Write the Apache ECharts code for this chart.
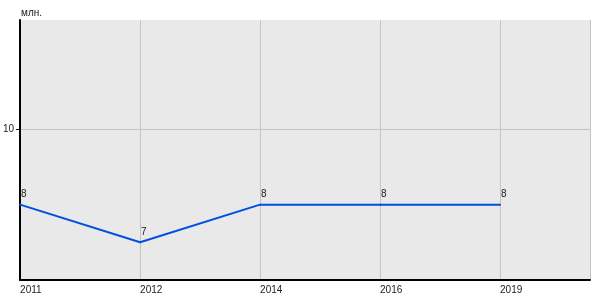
<!DOCTYPE html>
<html><head><meta charset="utf-8">
<script src="https://cdn.jsdelivr.net/npm/echarts@6/dist/echarts.min.js"></script>
<style>html,body{margin:0;padding:0;background:#fff}#c{width:600px;height:300px}</style>
</head><body><div id="c"></div>
<script>
const years = ['2011', '2012', '2014', '2016', '2019'];
const values = [8, 7, 8, 8, 8];
const yTicks = [10];
const unit = 'млн.';

const chart = echarts.init(document.getElementById('c'), null, {renderer: 'canvas'});
chart.setOption({
  animation: false,
  textStyle: {fontFamily: 'Liberation Sans, Arial, sans-serif'},
  grid: {left: 20, right: 10, top: 20, bottom: 20, show: true, backgroundColor: '#e9e9e9', borderWidth: 0},
  xAxis: {
    type: 'value', min: 0, max: 4.75, interval: 1,
    axisLine: {show: true, lineStyle: {color: '#000', width: 2}},
    axisTick: {show: false},
    axisLabel: {color: '#222', fontSize: 10, align: 'left', margin: 5,
      formatter: v => (Number.isInteger(v) && years[v] !== undefined) ? years[v] : ''},
    splitLine: {show: true, lineStyle: {color: '#c4c4c4', width: 1}}
  },
  yAxis: {
    type: 'value', min: 6, max: 12.9, interval: 4,
    name: unit, nameLocation: 'end', nameGap: 2,
    nameTextStyle: {color: '#222', fontSize: 10, align: 'left', padding: [0, 0, 0, 1], verticalAlign: 'bottom'},
    axisLine: {show: true, lineStyle: {color: '#000', width: 2}},
    axisTick: {show: true, length: 4, lineStyle: {color: '#000'}, customValues: yTicks},
    axisLabel: {color: '#222', fontSize: 10, margin: 6, customValues: yTicks,
      formatter: v => yTicks.includes(v) ? String(v) : ''},
    splitLine: {show: true, lineStyle: {color: '#c4c4c4', width: 1}}
  },
  series: [{
    type: 'line',
    data: values.map((v, i) => [i, v]),
    symbol: 'circle', symbolSize: 2, showSymbol: true, showAllSymbol: true,
    itemStyle: {color: '#0050e0'},
    lineStyle: {color: '#0050e0', width: 2},
    label: {show: true, position: 'top', align: 'left', distance: 4, offset: [1, 0],
      color: '#222', fontSize: 10,
      formatter: p => String(p.value[1])}
  }]
});
</script></body></html>
